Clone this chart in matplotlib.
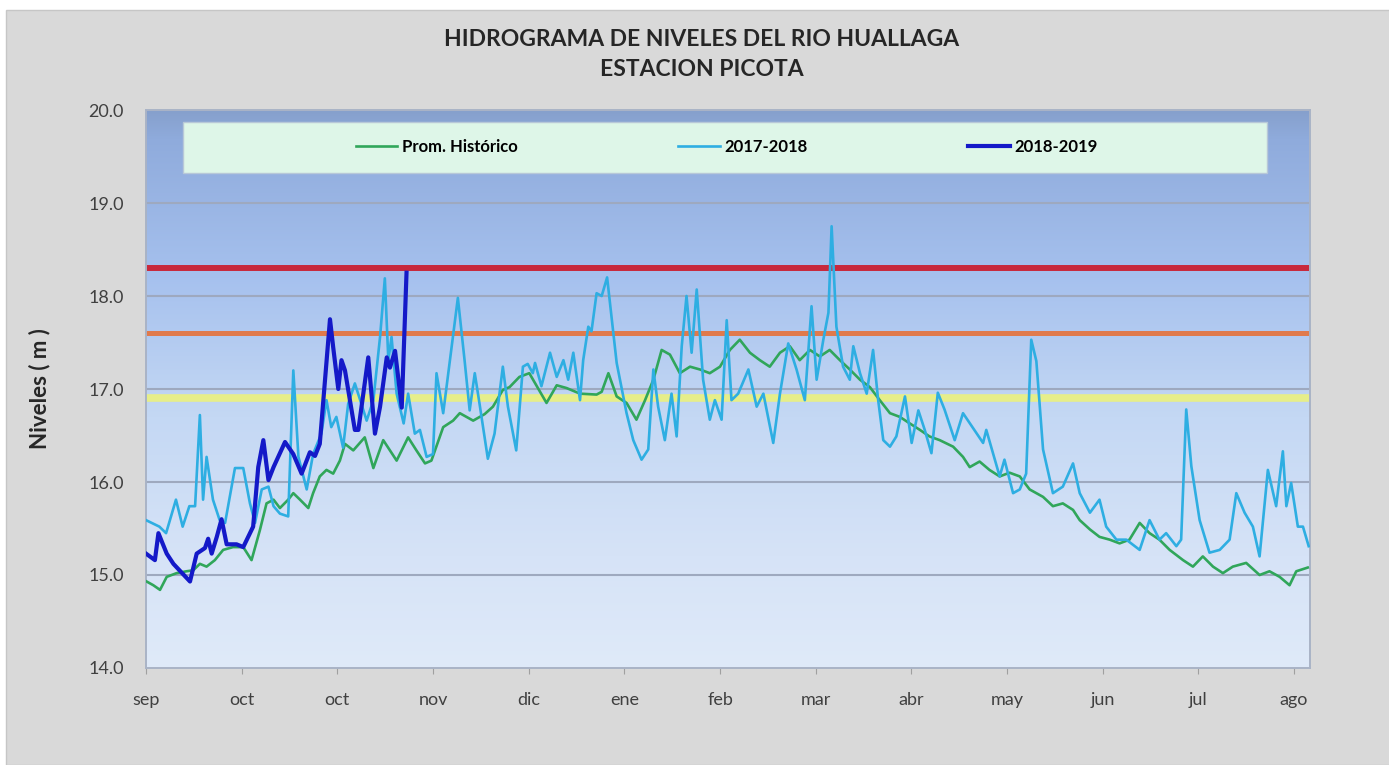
import numpy as np
import matplotlib.pyplot as plt
from matplotlib.colors import LinearSegmentedColormap
from matplotlib.patches import Rectangle

plt.rcParams['font.family'] = ['Lato', 'DejaVu Sans']

# day index (0 = 1 sep) and level in m
hist_days = [0.2, 2.3, 4.4, 6.5, 9.6, 12.7, 14.8, 16.9, 19.0, 21.6, 24.2, 27.3, 30.5, 33.1,
             35.7, 37.8, 40.0, 42.0, 44.6, 46.2, 48.3, 50.9, 52.4, 54.5, 56.6, 58.7, 60.8,
             62.4, 65.0, 68.6, 71.3, 74.4, 78.6, 82.2, 84.8, 87.5, 89.5, 93.2, 96.3, 98.4,
             102.6, 106.2, 108.8, 111.9, 114.0, 117.1, 120.2, 125.6, 128.8, 131.9, 136.1,
             141.3, 142.9, 145.0, 147.6, 150.7, 153.8, 156.5, 159.1, 161.7, 164.3, 167.4,
             170.6, 173.7, 176.8, 180.0, 183.1, 186.2, 189.4, 192.5, 195.6, 198.8, 201.9,
             205.0, 208.2, 211.3, 214.4, 217.6, 220.7, 223.9, 227.0, 230.1, 233.3, 236.4,
             239.5, 242.7, 245.7, 248.9, 253.1, 256.2, 258.3, 261.4, 264.5, 267.7, 270.8,
             274.0, 277.1, 281.3, 284.4, 287.5, 290.7, 292.8, 296.0, 299.0, 302.2, 305.3,
             308.4, 311.6, 314.7, 317.8, 321.0, 325.2, 328.3, 331.4, 334.6, 337.7, 340.8,
             345.0, 349.2, 352.3, 355.5, 358.6, 360.7, 364.3]
hist_lvl = [14.93, 14.89, 14.84, 14.98, 15.02, 15.04, 15.05, 15.12, 15.09, 15.16, 15.27, 15.30,
            15.30, 15.16, 15.48, 15.77, 15.81, 15.72, 15.81, 15.88, 15.81, 15.72, 15.88, 16.06,
            16.13, 16.09, 16.23, 16.41, 16.34, 16.48, 16.15, 16.45, 16.23, 16.48, 16.34, 16.20,
            16.23, 16.59, 16.66, 16.74, 16.66, 16.73, 16.81, 16.99, 17.02, 17.13, 17.17, 16.85,
            17.04, 17.01, 16.95, 16.94, 16.97, 17.17, 16.92, 16.85, 16.67, 16.88, 17.10, 17.42,
            17.37, 17.17, 17.24, 17.21, 17.17, 17.24, 17.42, 17.53, 17.39, 17.31, 17.24, 17.39,
            17.46, 17.31, 17.42, 17.35, 17.42, 17.31, 17.21, 17.10, 17.02, 16.88, 16.74, 16.70,
            16.63, 16.56, 16.49, 16.45, 16.38, 16.27, 16.16, 16.22, 16.13, 16.06, 16.10, 16.06,
            15.92, 15.84, 15.74, 15.77, 15.70, 15.59, 15.49, 15.41, 15.38, 15.34, 15.38, 15.56,
            15.45, 15.38, 15.27, 15.16, 15.09, 15.20, 15.09, 15.02, 15.09, 15.13, 15.00, 15.04,
            14.98, 14.89, 15.04, 15.08]

y1718_days = [0, 4.2, 6.3, 9.4, 11.5, 13.6, 15.4, 16.9, 17.9, 19.0, 21.0, 23.1, 24.8, 27.9,
              30.5, 32.6, 34.2, 36.3, 38.4, 40.0, 42.0, 44.6, 46.2, 47.8, 50.4, 52.4, 55.0,
              56.6, 58.1, 59.7, 61.8, 63.4, 65.5, 69.2, 71.3, 73.4, 74.9, 76.0, 77.0, 78.6,
              80.8, 82.2, 84.3, 85.9, 88.0, 90.0, 91.1, 93.2, 97.8, 99.9, 101.5, 103.1, 104.6,
              107.2, 109.3, 111.9, 113.5, 116.1, 118.2, 119.7, 121.3, 122.0, 124.0, 126.7,
              128.8, 130.9, 132.4, 134.0, 136.1, 137.1, 138.7, 139.7, 141.3, 142.9, 144.6,
              147.6, 150.7, 152.8, 155.4, 157.5, 159.1, 160.6, 162.7, 164.8, 166.4, 168.0,
              169.5, 171.1, 172.7, 174.7, 176.8, 178.4, 180.5, 182.1, 183.6, 185.7, 188.9,
              191.5, 193.6, 196.7, 198.8, 201.4, 204.0, 206.6, 208.7, 210.3, 212.4, 214.0,
              215.0, 216.5, 218.6, 220.7, 221.8, 223.9, 226.0, 228.0, 229.6, 231.2, 233.3,
              235.3, 238.0, 240.1, 242.2, 244.2, 246.3, 248.3, 250.4, 253.6, 256.2, 262.5,
              263.5, 267.7, 269.2, 271.9, 274.0, 276.0, 277.6, 279.2, 281.3, 284.4, 287.5,
              290.7, 292.8, 296.0, 299.0, 301.1, 304.3, 307.4, 311.6, 314.7, 317.8, 319.9,
              323.1, 324.6, 326.2, 327.8, 330.4, 333.5, 336.7, 339.8, 341.9, 344.5, 347.1,
              349.2, 351.8, 354.4, 356.5, 357.6, 359.1, 361.2, 362.8, 364.6]
y1718_lvl = [15.59, 15.52, 15.45, 15.81, 15.52, 15.74, 15.74, 16.72, 15.81, 16.27, 15.81, 15.59,
             15.56, 16.15, 16.15, 15.77, 15.56, 15.92, 15.95, 15.74, 15.66, 15.63, 17.20, 16.27,
             15.92, 16.30, 16.52, 16.88, 16.59, 16.70, 16.37, 16.84, 17.06, 16.66, 16.88, 17.56,
             18.19, 17.31, 17.56, 16.95, 16.63, 16.95, 16.52, 16.56, 16.27, 16.30, 17.17, 16.74,
             17.98, 17.31, 16.77, 17.17, 16.84, 16.25, 16.52, 17.24, 16.81, 16.34, 17.24, 17.27,
             17.17, 17.28, 17.03, 17.39, 17.13, 17.31, 17.10, 17.39, 16.88, 17.31, 17.67, 17.62,
             18.03, 18.00, 18.20, 17.28, 16.74, 16.45, 16.24, 16.35, 17.21, 16.81, 16.45, 16.95,
             16.49, 17.46, 18.00, 17.39, 18.07, 17.10, 16.67, 16.88, 16.67, 17.74, 16.88, 16.95,
             17.21, 16.81, 16.95, 16.42, 16.95, 17.49, 17.21, 16.88, 17.89, 17.10, 17.53, 17.82,
             18.75, 17.67, 17.24, 17.10, 17.46, 17.17, 16.95, 17.42, 16.88, 16.45, 16.38, 16.49,
             16.92, 16.42, 16.77, 16.56, 16.31, 16.96, 16.78, 16.45, 16.74, 16.42, 16.56, 16.06,
             16.24, 15.88, 15.92, 16.09, 17.53, 17.30, 16.35, 15.88, 15.95, 16.20, 15.88, 15.67,
             15.81, 15.52, 15.38, 15.38, 15.27, 15.59, 15.38, 15.45, 15.31, 15.38, 16.78, 16.17,
             15.59, 15.24, 15.27, 15.38, 15.88, 15.67, 15.52, 15.20, 16.13, 15.74, 16.33, 15.74,
             15.99, 15.52, 15.52, 15.31]

y1819_days = [0, 2.8, 3.9, 6.5, 8.6, 13.8, 15.9, 18.5, 19.5, 20.6, 22.2, 23.7, 25.3, 28.4,
              30.5, 33.6, 35.2, 36.8, 38.4, 40.0, 43.6, 46.2, 48.8, 51.4, 53.0, 54.5, 57.7,
              58.7, 60.3, 61.3, 62.4, 65.5, 66.6, 69.7, 71.8, 73.4, 75.5, 76.5, 78.1, 80.2, 81.7]
y1819_lvl = [15.23, 15.16, 15.45, 15.23, 15.12, 14.93, 15.23, 15.29, 15.39, 15.23, 15.41, 15.60,
             15.33, 15.33, 15.30, 15.52, 16.16, 16.45, 16.02, 16.16, 16.43, 16.30, 16.09, 16.32,
             16.28, 16.41, 17.75, 17.45, 17.00, 17.31, 17.20, 16.56, 16.56, 17.34, 16.52, 16.81,
             17.34, 17.23, 17.41, 16.80, 18.25]

# alert levels (m)
alert_lvls = [18.3, 17.6, 16.9]
alert_cols = ['#c8283c', '#e07a4c', '#e6ee8a']
alert_lw = [4.3, 3.6, 5.5]

tick_days = list(range(0, 361, 30))
tick_lbls = ['sep', 'oct', 'oct', 'nov', 'dic', 'ene', 'feb', 'mar', 'abr', 'may', 'jun', 'jul', 'ago']

fig = plt.figure(figsize=(13.89, 7.65), dpi=100)
fig.patch.set_facecolor('white')
fig.patches.append(Rectangle((6 / 1389, 0), 1, 1 - 10 / 765, transform=fig.transFigure,
                             facecolor='#d9d9d9', edgecolor='#c6c6c6', lw=1, zorder=-10))

ax = fig.add_axes([0.1051, 0.1268, 0.8380, 0.7294])

# plot area gradient
cmap = LinearSegmentedColormap.from_list('bg', [(0, '#dfeaf9'), (0.2, '#d6e3f7'), (0.45, '#c4d8f4'),
                                                (0.7, '#a6c1ee'), (0.95, '#8fabdc'), (1, '#86a0cc')])
grad = np.linspace(0, 1, 256).reshape(-1, 1)
ax.imshow(grad, cmap=cmap, aspect='auto', extent=[0, 1, 0, 1], transform=ax.transAxes,
          origin='lower', zorder=0)

for v in range(15, 20):
    ax.axhline(v, color='#9ea9bf', lw=1.5, zorder=1)

for lvl, c, w in zip(alert_lvls, alert_cols, alert_lw):
    ax.axhline(lvl, color=c, lw=w, zorder=2)

ax.plot(hist_days, hist_lvl, color='#30a65a', lw=1.9, zorder=3, label='Prom. Histórico')
ax.plot(y1718_days, y1718_lvl, color='#2eaee2', lw=1.9, zorder=4, label='2017-2018')
ax.plot(y1819_days, y1819_lvl, color='#1419c8', lw=3.0, zorder=5, label='2018-2019')

ax.set_xlim(0, 365)
ax.set_ylim(14, 20)
ax.set_xticks(tick_days)
ax.set_xticklabels(tick_lbls)
ax.set_yticks(np.arange(14, 20.1, 1))
ax.set_yticklabels([f'{v:.1f}' for v in np.arange(14, 20.1, 1)])
ax.tick_params(axis='x', length=4, color='#a0a0a0', pad=13, labelsize=13, labelcolor='#404040')
ax.tick_params(axis='y', length=0, pad=16, labelsize=13, labelcolor='#404040')
for s in ax.spines.values():
    s.set_color('#a9b3c6')
    s.set_linewidth(1.4)

ax.set_ylabel('Niveles ( m )', fontsize=16, fontweight='bold', color='#262626')
ax.yaxis.set_label_coords(-0.082, 0.5)

# legend band
ax.add_patch(Rectangle((0.0318, 0.887), 0.9312, 0.0915, transform=ax.transAxes,
                       facecolor='#def6e8', edgecolor='#b8c8d8', lw=1, zorder=6))
ax.legend(loc='center', bbox_to_anchor=(0.499, 0.934), ncol=3, frameon=False,
          prop={'weight': 'bold', 'size': 12}, handlelength=2.5, handletextpad=0.3,
          columnspacing=9.6, borderaxespad=0).set_zorder(7)

fig.text(702 / 1389, 1 - 40 / 765, 'HIDROGRAMA DE NIVELES DEL RIO HUALLAGA', ha='center',
         va='center', fontsize=16.5, fontweight='bold', color='#262626')
fig.text(702 / 1389, 1 - 70 / 765, 'ESTACION PICOTA', ha='center', va='center',
         fontsize=16.5, fontweight='bold', color='#262626')

fig.savefig('out.png', dpi=100)
